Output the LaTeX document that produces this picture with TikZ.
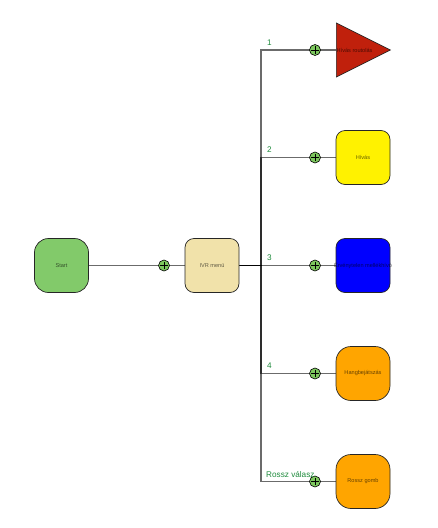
\documentclass[tikz,border=0pt]{standalone}
\usepackage{fontspec}
\setmainfont{Liberation Sans}
\usetikzlibrary{shapes.geometric,backgrounds}
\definecolor{startgreen}{HTML}{82CA6A}
\definecolor{ivrwheat}{HTML}{F1E2AA}
\definecolor{trired}{HTML}{C0200C}
\definecolor{plusgreen}{HTML}{7DC85E}
\definecolor{labgreen}{HTML}{1E8A3C}
\definecolor{boxorange}{HTML}{FFA500}
\tikzset{
  box/.style={draw=black!85, line width=0.7pt, minimum width=54pt, minimum height=54pt, inner sep=0pt, rounded corners=9pt},
  roundbox/.style={box, rounded corners=15pt},
  boxtext/.style={font=\fontsize{5.6}{6}\selectfont, text=black, text opacity=0.6, inner sep=0pt},
  conn/.style={draw=black, draw opacity=0.58, line width=1.1pt},
  pluscirc/.style={circle, draw=black, line width=0.6pt, fill=plusgreen, minimum size=11pt, inner sep=0pt,
    path picture={
      \draw[line width=0.7pt] ([xshift=-3.6pt]path picture bounding box.center) -- ([xshift=3.6pt]path picture bounding box.center);
      \draw[line width=0.7pt] ([yshift=-3.6pt]path picture bounding box.center) -- ([yshift=3.6pt]path picture bounding box.center);
    }},
  brlabel/.style={font=\fontsize{8.2}{9}\selectfont, text=labgreen, inner sep=0pt, anchor=base west}
}
\begin{document}
\begin{tikzpicture}[x=1pt,y=-1pt]
\useasboundingbox (0,0) rectangle (438,528);
% nodes
\node[roundbox, rounded corners=14pt, fill=startgreen, label={[boxtext]center:Start}] (start) at (61.5,265.5) {};
\node[box, fill=ivrwheat, label={[boxtext]center:IVR menü}] (ivr) at (212,265.5) {};
\node[isosceles triangle, isosceles triangle stretches, draw=black!85, line width=0.7pt, fill=trired,
      minimum width=54pt, minimum height=54pt, inner sep=0pt, anchor=west,
      label={[boxtext, anchor=west, xshift=0.5pt]west:Hívás routolás}] (t1) at (336,50) {};
\node[box, fill=yellow, label={[boxtext]center:Hívás}] (t2) at (363,157.5) {};
\node[box, fill=blue, label={[boxtext]center:Érvénytelen mellékhívó}] (t3) at (363,265.5) {};
\node[roundbox, fill=boxorange, label={[boxtext]center:Hangbejátszás}] (t4) at (363,373.5) {};
\node[roundbox, fill=boxorange, label={[boxtext]center:Rossz gomb}] (t5) at (363,481.5) {};
% plus circles
\node[pluscirc] (p0) at (164,265.5) {};
\node[pluscirc] (p1) at (315,50) {};
\node[pluscirc] (p2) at (315,157.5) {};
\node[pluscirc] (p3) at (315,265.5) {};
\node[pluscirc] (p4) at (315,373.5) {};
\node[pluscirc] (p5) at (315,481.5) {};
\coordinate (j) at (261,265.5);
% connectors
\begin{scope}[on background layer]
\draw[conn] (start.east) -- (p0.center) -- (ivr.west);
\draw[conn] (ivr.east) -- (j) |- (p1.center) -- (t1.west);
\draw[conn] (ivr.east) -- (j) |- (p2.center) -- (t2.west);
\draw[conn] (ivr.east) -- (j) -- (p3.center) -- (t3.west);
\draw[conn] (ivr.east) -- (j) |- (p4.center) -- (t4.west);
\draw[conn] (ivr.east) -- (j) |- (p5.center) -- (t5.west);
\end{scope}
% branch labels
\node[brlabel] (l1) at (267,45) {1};
\node[brlabel] (l2) at (267,152.5) {2};
\node[brlabel] (l3) at (267,260.5) {3};
\node[brlabel] (l4) at (267,368.5) {4};
\node[brlabel] (l5) at (266,477) {Rossz válasz};
\end{tikzpicture}
\end{document}
